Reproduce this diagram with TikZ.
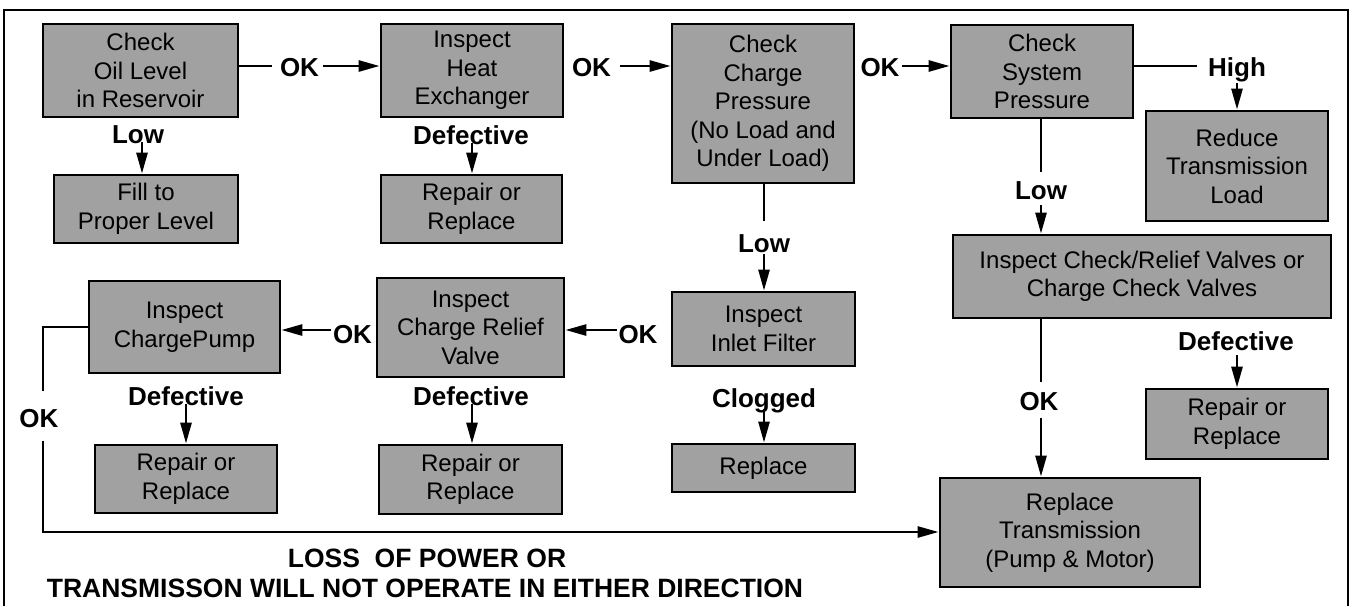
\documentclass[tikz,border=0pt]{standalone}
\usepackage{fontspec}
\setmainfont{Liberation Sans}
\usetikzlibrary{arrows.meta}
\definecolor{boxgray}{gray}{0.63}
\begin{document}
\begin{tikzpicture}[x=1pt,y=-1pt,
  box/.style={draw, line width=2.8pt, fill=boxgray, inner sep=0pt, align=center,
              font=\fontsize{24}{28.5}\selectfont},
  lab/.style={font=\bfseries\fontsize{26}{30}\selectfont, inner sep=0pt, anchor=base},
  ttl/.style={font=\bfseries\fontsize{26.5}{30}\selectfont, inner sep=0pt, anchor=base},
  conn/.style={line width=2.7pt},
  arr/.style={conn, -{Triangle[length=21pt,width=11pt]}}]
\useasboundingbox (0,0) rectangle (1354,606);
% frame
\draw[line width=2pt] (4,606) -- (4,10) -- (1348,10) -- (1348,606);
% boxes
\node[box, minimum width=195pt, minimum height=93pt] (b1) at (140.5,70.5) {Check\\Oil Level\\in Reservoir};
\node[box, minimum width=182pt, minimum height=93pt] (b2) at (472,70.5) {Inspect\\Heat\\Exchanger};
\node[box, minimum width=182pt, minimum height=159pt] (b3) at (763,103.5) {Check\\Charge\\Pressure\\(No Load and\\Under Load)};
\node[box, minimum width=182pt, minimum height=93pt] (b4) at (1042,71.5) {Check\\System\\Pressure};
\node[box, minimum width=184pt, minimum height=68pt] (fill) at (146,209) {Fill to\\Proper Level};
\node[box, minimum width=181pt, minimum height=68pt] (rep1) at (471.5,209) {Repair or\\Replace};
\node[box, minimum width=182pt, minimum height=110pt] (red) at (1237,166) {Reduce\\Transmission\\Load};
\node[box, minimum width=378pt, minimum height=83pt] (cr) at (1142,276.5) {Inspect Check/Relief Valves or\\Charge Check Valves};
\node[box, minimum width=183pt, minimum height=74pt] (filt) at (763.5,329) {Inspect\\Inlet Filter};
\node[box, minimum width=187pt, minimum height=99pt] (relief) at (470.5,327.5) {Inspect\\Charge Relief\\Valve};
\node[box, minimum width=191pt, minimum height=92pt] (pump) at (184.5,327) {Inspect\\ChargePump};
\node[box, minimum width=182pt, minimum height=68pt] (repP) at (186,479) {Repair or\\Replace};
\node[box, minimum width=183pt, minimum height=69pt] (repR) at (470.5,479.5) {Repair or\\Replace};
\node[box, minimum width=183pt, minimum height=48pt] (replF) at (763.5,468) {Replace};
\node[box, minimum width=182pt, minimum height=70pt] (rep4) at (1237,424) {Repair or\\Replace};
\node[box, minimum width=260pt, minimum height=109pt] (trans) at (1070,532.5) {Replace\\Transmission\\(Pump \& Motor)};
% labels
\node[lab] (ok1) at (299.5,76) {OK};
\node[lab] (low1) at (138,143) {Low};
\node[lab] (def1) at (471,144) {Defective};
\node[lab] (ok2) at (591.5,76) {OK};
\node[lab] (ok3) at (880,76) {OK};
\node[lab] (high) at (1237,76) {High};
\node[lab] (low2) at (764,252) {Low};
\node[lab] (low3) at (1041,199) {Low};
\node[lab] (clog) at (764,407) {Clogged};
\node[lab] (ok6) at (1039,410) {OK};
\node[lab] (def4) at (1236,350) {Defective};
\node[lab] (okL) at (39,427) {OK};
\node[lab] (defP) at (186,405) {Defective};
\node[lab] (defR) at (471,405) {Defective};
\node[lab] (ok4) at (638,343) {OK};
\node[lab] (ok5) at (352.5,343) {OK};
\node[ttl] (title1) at (427,567) {LOSS\ \ OF POWER OR};
\node[ttl] (title2) at (425,597) {TRANSMISSON WILL NOT OPERATE IN EITHER DIRECTION};
% connector gap ends
\coordinate (g1a) at (272,66);
\coordinate (g1b) at (323,66);
\coordinate (g2b) at (620,66);
\coordinate (g3b) at (902,66);
\coordinate (gHa) at (1197,66);
\coordinate (gHb) at (1237,83);
\coordinate (gL1) at (142,142);
\coordinate (gD1) at (472,143);
\coordinate (gL2a) at (764,221);
\coordinate (gL2b) at (764,254);
\coordinate (gC) at (764,409);
\coordinate (gL3a) at (1041,172);
\coordinate (gL3b) at (1041,205);
\coordinate (g6a) at (1041,382);
\coordinate (g6b) at (1041,418);
\coordinate (gD4) at (1237,355);
\coordinate (gDP) at (186,404);
\coordinate (gDR) at (472,404);
\coordinate (g4) at (617,330);
\coordinate (g5) at (331,330);
\coordinate (c1) at (43,327);
\coordinate (gLa) at (43,391);
\coordinate (gLb) at (43,441);
\coordinate (c2) at (43,532);
% connectors
\draw[conn] (b1.east |- g1a) -- (g1a);
\draw[arr] (g1b) -- (b2.west |- g1b);
\draw[arr] (g2b) -- (b3.west |- g2b);
\draw[arr] (g3b) -- (b4.west |- g3b);
\draw[conn] (b4.east |- gHa) -- (gHa);
\draw[arr] (gHb) -- (gHb |- red.north);
\draw[arr] (gL1) -- (gL1 |- fill.north);
\draw[arr] (gD1) -- (gD1 |- rep1.north);
\draw[conn] (gL2a |- b3.south) -- (gL2a);
\draw[arr] (gL2b) -- (gL2b |- filt.north);
\draw[arr] (gC) -- (gC |- replF.north);
\draw[conn] (gL3a |- b4.south) -- (gL3a);
\draw[arr] (gL3b) -- (gL3b |- cr.north);
\draw[conn] (g6a |- cr.south) -- (g6a);
\draw[arr] (g6b) -- (g6b |- trans.north);
\draw[arr] (gD4) -- (gD4 |- rep4.north);
\draw[arr] (gDP) -- (gDP |- repP.north);
\draw[arr] (gDR) -- (gDR |- repR.north);
\draw[arr] (g4) -- (g4 -| relief.east);
\draw[arr] (g5) -- (g5 -| pump.east);
\draw[conn] (c1 -| pump.west) -- (c1) -- (gLa);
\draw[arr] (gLb) -- (c2) -- (c2 -| trans.west);
\end{tikzpicture}
\end{document}
